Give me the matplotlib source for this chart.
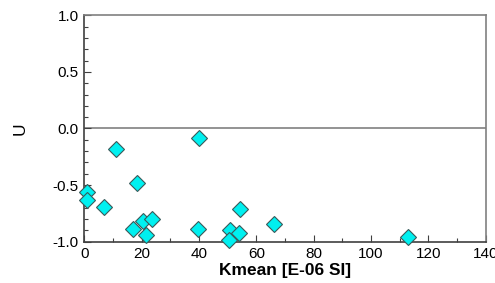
import matplotlib
matplotlib.use("Agg")
import matplotlib.pyplot as plt
from matplotlib.ticker import MultipleLocator

plt.rcParams["font.family"] = ["Liberation Sans", "DejaVu Sans"]

kmean = [0.8, 1.0, 7.0, 11.1, 18.4, 17.0, 20.4, 21.4, 23.6, 40.0, 39.8,
         50.7, 50.6, 53.9, 54.3, 66.3, 112.9]
u = [-0.565, -0.633, -0.69, -0.183, -0.483, -0.89, -0.816, -0.937, -0.80,
     -0.08, -0.884, -0.896, -0.987, -0.92, -0.707, -0.845, -0.963]

x_ticks = [0, 20, 40, 60, 80, 100, 120, 140]
y_ticks = [-1.0, -0.5, 0.0, 0.5, 1.0]

fig = plt.figure(figsize=(4.95, 2.83), dpi=100)
ax = fig.add_axes([0.1703, 0.146, 0.8107, 0.8])

ax.axhline(0, color="#808080", lw=1.2, zorder=1)
ax.plot(kmean, u, linestyle="none", marker="D", markersize=8,
        markerfacecolor="#00f0f0", markeredgecolor="#3a5a5a",
        markeredgewidth=0.8, zorder=3, clip_on=False)

ax.set_xlim(0, 140)
ax.set_ylim(-1.0, 1.0)
ax.set_xticks(x_ticks)
ax.set_yticks(y_ticks)
ax.set_yticklabels([f"{v:.1f}" for v in y_ticks])
ax.xaxis.set_minor_locator(MultipleLocator(10))
ax.yaxis.set_minor_locator(MultipleLocator(0.1))
ax.tick_params(which="both", direction="in", color="#404040", labelsize=11,
               top=False, right=False)
ax.tick_params(which="major", length=5, width=0.8, pad=4)
ax.tick_params(which="minor", length=3, width=0.8)

for s in ax.spines.values():
    s.set_color("#808080")
    s.set_linewidth(1.2)
ax.spines["left"].set_color("#404040")
ax.spines["bottom"].set_color("#404040")

ax.set_xlabel("Kmean [E-06 SI]", fontsize=12.5, fontweight="bold", labelpad=1)
ax.set_ylabel("U", fontsize=12.5, labelpad=18)

fig.savefig("out.png", dpi=100)
